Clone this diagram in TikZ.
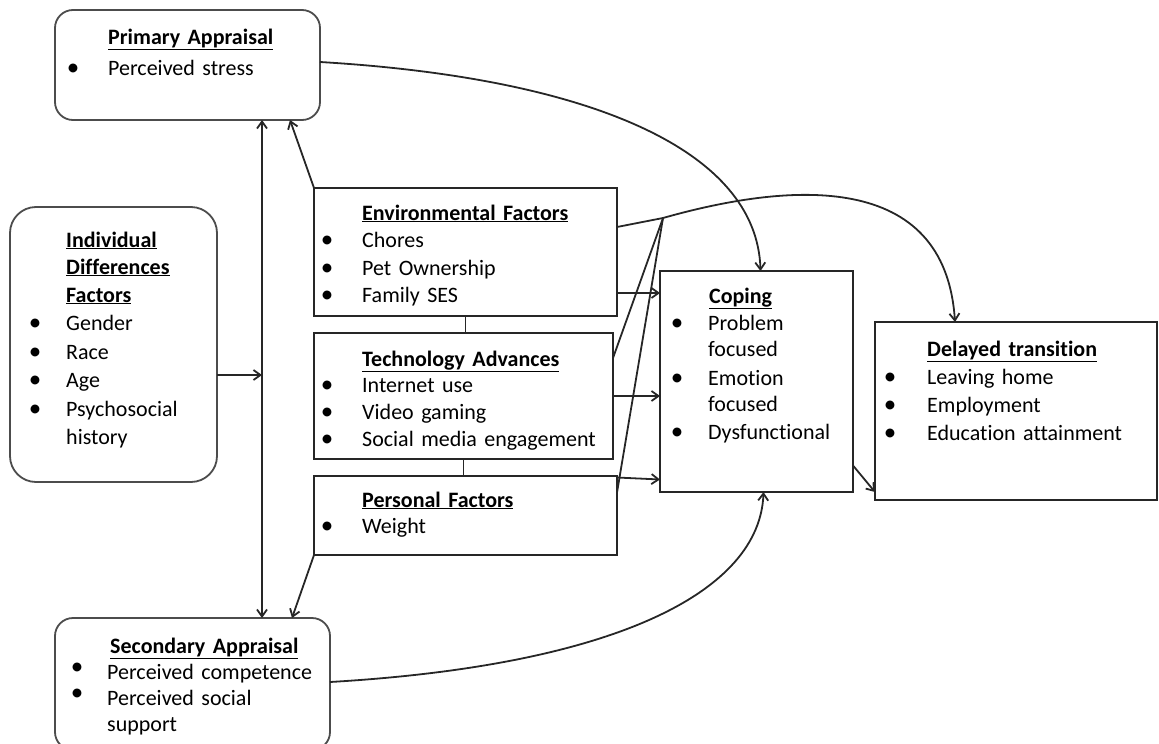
\documentclass[tikz,border=0pt]{standalone}
\usepackage{fontspec}
\setmainfont[RawFeature=-liga,WordSpace=1.5]{Carlito}
\usetikzlibrary{positioning,arrows.meta}

\tikzset{
  box/.style={draw=black!85,line width=2.2pt,inner sep=0pt,outer sep=0pt},
  rbox/.style={draw=black!70,line width=1.8pt,rounded corners=18pt,inner sep=0pt,outer sep=0pt},
  txt/.style={anchor=base west,inner sep=0pt,font=\fontsize{22}{26}\selectfont},
  bul/.style={anchor=base,inner sep=0pt,font=\fontsize{25}{26}\selectfont},
  conn/.style={draw=black!85,line width=1.8pt},
}
\newcommand{\ttl}[1]{\underline{\textbf{#1}}}

\begin{document}
\begin{tikzpicture}[x=1pt,y=-1pt,>={Straight Barb[length=7pt,width=10pt]}]
  \useasboundingbox (0,0) rectangle (1159,744);
  \clip (0,0) rectangle (1159,744);

  % boxes
  \node[rbox,minimum width=265pt,minimum height=110pt] (prim) at (187.5,65) {};
  \node[rbox,rounded corners=26pt,minimum width=207pt,minimum height=275pt] (indiv) at (113.5,344.5) {};
  \node[rbox,minimum width=275pt,minimum height=132pt] (sec) at (192.5,684) {};
  \node[box,minimum width=303pt,minimum height=128pt] (env) at (465.5,252) {};
  \node[box,minimum width=299pt,minimum height=126pt] (tech) at (463.5,396) {};
  \node[box,minimum width=303pt,minimum height=79pt] (pers) at (465.5,515.5) {};
  \node[box,minimum width=193pt,minimum height=221pt] (cop) at (756.5,381.5) {};
  \node[box,minimum width=282pt,minimum height=178pt] (delay) at (1016,411) {};

  % primary appraisal
  \node[txt] (primT) at (108,44) {\ttl{Primary Appraisal}};
  \node[bul] (primB) at (73,75) {\textbullet};
  \node[txt] (primI) at (108,75) {Perceived stress};

  % individual differences
  \node[txt] (indT1) at (66,247) {\ttl{Individual}};
  \node[txt] (indT2) at (66,274) {\ttl{Differences}};
  \node[txt] (indT3) at (66,302) {\ttl{Factors}};
  \foreach \y/\t in {330/Gender,359/Race,387/Age,416/Psychosocial} {
    \node[bul] (indB\y) at (35,\y) {\textbullet};
    \node[txt] (indI\y) at (66,\y) {\t};
  }
  \node[txt] (indI444) at (66,444) {history};

  % secondary appraisal
  \node[txt] (secT) at (110,653) {\ttl{Secondary Appraisal}};
  \foreach \y/\t in {679/Perceived competence,705/Perceived social} {
    \node[bul] (secB\y) at (77,\y-5) {\textbullet};
    \node[txt] (secI\y) at (107,\y) {\t};
  }
  \node[txt] (secI731) at (107,731) {support};

  % environmental factors
  \node[txt] (envT) at (362,220) {\ttl{Environmental Factors}};
  \foreach \y/\t in {247/Chores,275/Pet Ownership,302/Family SES} {
    \node[bul] (envB\y) at (327,\y) {\textbullet};
    \node[txt] (envI\y) at (362,\y) {\t};
  }

  % technology advances
  \node[txt] (techT) at (362,366) {\ttl{Technology Advances}};
  \foreach \y/\t in {392/Internet use,419/Video gaming,446/Social media engagement} {
    \node[bul] (techB\y) at (327,\y) {\textbullet};
    \node[txt] (techI\y) at (362,\y) {\t};
  }

  % personal factors
  \node[txt] (persT) at (362,507) {\ttl{Personal Factors}};
  \node[bul] (persB) at (327,533) {\textbullet};
  \node[txt] (persI) at (362,533) {Weight};

  % coping
  \node[txt] (copT) at (709,303) {\ttl{Coping}};
  \foreach \y/\t in {330/Problem,385/Emotion,439/Dysfunctional}
    \node[bul] (copB\y) at (677,\y) {\textbullet};
  \foreach \y/\t in {330/Problem,356/focused,385/Emotion,411/focused,439/Dysfunctional}
    \node[txt] (copI\y) at (708,\y) {\t};

  % delayed transition
  \node[txt] (delT) at (927,356) {\ttl{Delayed transition}};
  \foreach \y/\t in {384/Leaving home,412/Employment,440/Education attainment} {
    \node[bul] (delB\y) at (890,\y) {\textbullet};
    \node[txt] (delI\y) at (927,\y) {\t};
  }

  % connectors
  \coordinate (spine) at (262,375);
  \coordinate (join) at (663,218);
  \draw[conn,<->] (spine |- prim.south) -- (spine |- sec.north);
  \draw[conn,->] (indiv.east |- spine) -- (spine);
  \draw[conn,->] (env.north west) -- ([xshift=-30pt]prim.south east);
  \draw[conn,->] (pers.south west) -- ([xshift=-38pt]sec.north east);
  \draw[conn] (env.south) -- (env.south |- tech.north);
  \draw[conn] (tech.south) -- (tech.south |- pers.north);

  \draw[conn,->] ([yshift=25pt]env.east) -- (join)
    .. controls (790,182) and (945,170) .. ([xshift=-61pt]delay.north);
  \draw[conn] ([yshift=38pt]tech.east) -- (join);
  \draw[conn] ([yshift=23pt]pers.east) -- (join);

  \draw[conn,->] ([yshift=-41pt]env.east) -- ([yshift=-41pt]env.east -| cop.west);
  \draw[conn,->] (tech.east) -- (tech.east -| cop.west);
  \draw[conn,->] ([yshift=38pt]pers.east) -- ([yshift=36pt]pers.east -| cop.west);

  \draw[conn,->] ([yshift=3pt]prim.east) .. controls (590,78) and (757,150) .. ([xshift=4pt]cop.north);
  \draw[conn,->] ([yshift=2pt]sec.east) .. controls (620,665) and (760,590) .. ([xshift=7pt]cop.south);
  \draw[conn,->] ([yshift=-84pt]cop.east) -- ([yshift=-81pt]delay.west);
\end{tikzpicture}
\end{document}
